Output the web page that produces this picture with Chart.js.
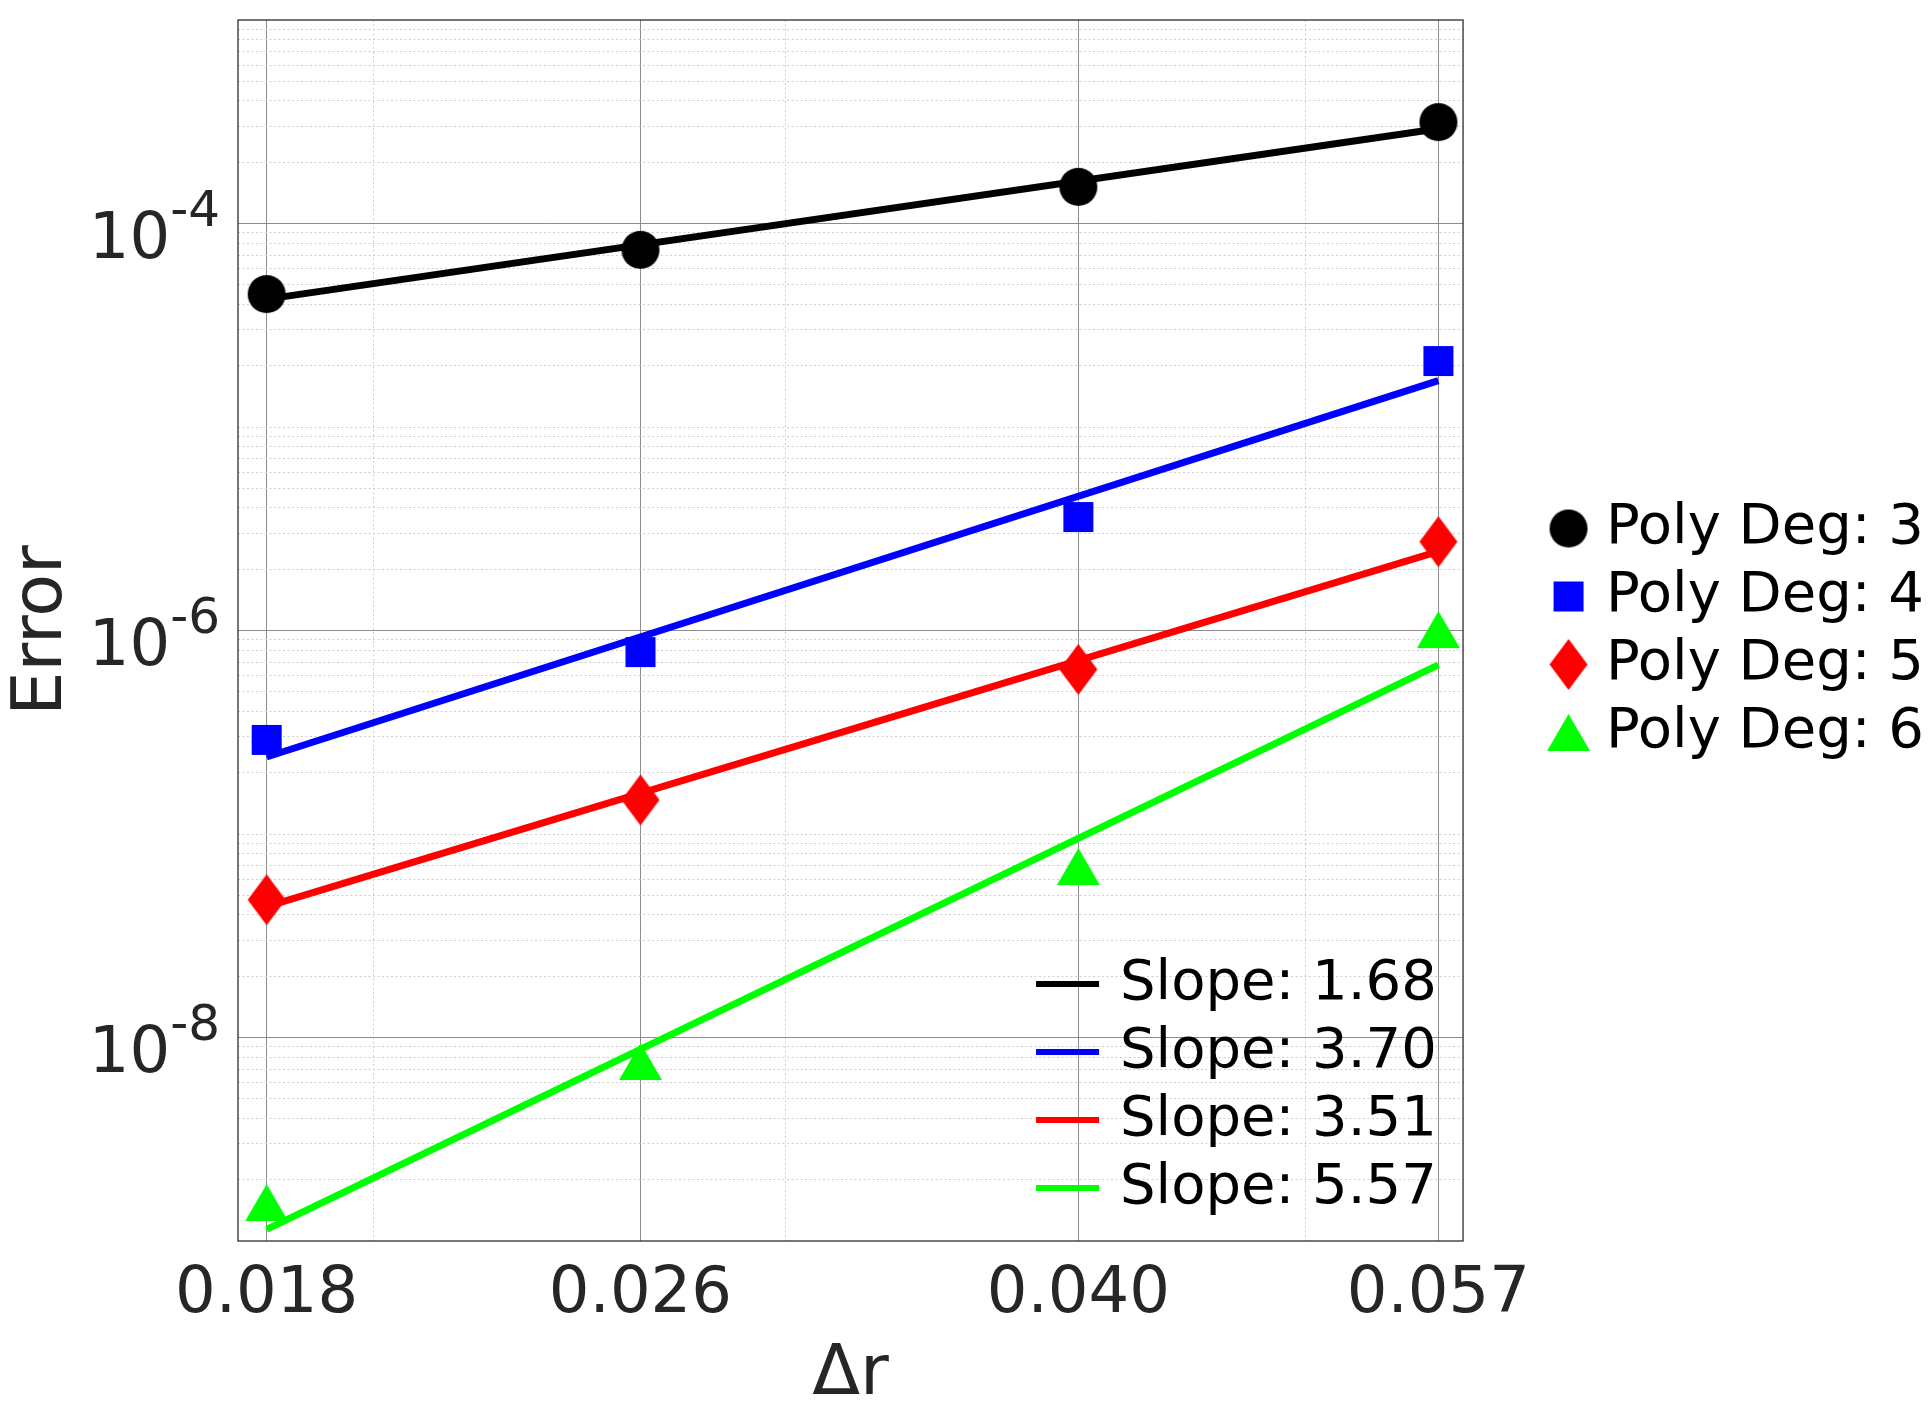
<!DOCTYPE html>
<html>
<head>
<meta charset="utf-8">
<script src="https://cdn.jsdelivr.net/npm/chart.js@4.4.1/dist/chart.umd.min.js"></script>
<style>
  html, body { margin: 0; padding: 0; background: #fff; }
  #wrap { width: 1930px; height: 1416px; }
</style>
</head>
<body>
<div id="wrap"><canvas id="myChart"></canvas></div>
<script>
// grid spacing (delta r) and measured errors
const dr = [0.018, 0.026, 0.040, 0.057];
const errDeg3 = [4.50e-5, 7.42e-5, 1.514e-4, 3.15e-4];
const errDeg4 = [2.90e-7, 7.83e-7, 3.61e-6, 2.11e-5];
const errDeg5 = [4.75e-8, 1.47e-7, 6.44e-7, 2.73e-6];
const errDeg6 = [1.545e-9, 7.62e-9, 6.92e-8, 1.01e-6];

// fitted lines, end points
const fitDr = [0.018, 0.057];
const fitDeg3 = [4.25e-5, 2.92e-4];
const fitDeg4 = [2.39e-7, 1.69e-5];
const fitDeg5 = [4.40e-8, 2.45e-6];
const fitDeg6 = [1.14e-9, 6.78e-7];

const degLabels = ["Poly Deg: 3", "Poly Deg: 4", "Poly Deg: 5", "Poly Deg: 6"];
const slopeLabels = ["Slope: 1.68", "Slope: 3.70", "Slope: 3.51", "Slope: 5.57"];

const xTickVals = [0.018, 0.026, 0.040, 0.057];
const xTickLabels = ["0.018", "0.026", "0.040", "0.057"];
const xMinorVals = [0.02, 0.03, 0.05];
const yLabelVals = [1e-8, 1e-6, 1e-4];
const yLabelExps = ["-8", "-6", "-4"];

const colors = ["#000000", "#0000ff", "#ff0000", "#00ff00"];
const shapes = ["circle", "square", "diamond", "triangle"];
const FONT = "DejaVu Sans";

function makeMark(kind, color, shiftX) {
  const sz = { circle: [38, 38], square: [30, 30], diamond: [38, 51], triangle: [43, 37] }[kind];
  const w = sz[0] + 4 + Math.round(Math.abs(shiftX)) * 2;
  const h = sz[1] + 4;
  const c = document.createElement("canvas");
  c.width = w;
  c.height = h;
  const g = c.getContext("2d");
  const cx = w / 2 + shiftX, cy = h / 2;
  const hw = sz[0] / 2, hh = sz[1] / 2;
  g.fillStyle = color;
  g.beginPath();
  if (kind === "circle") {
    g.arc(cx, cy, hw, 0, Math.PI * 2);
  } else if (kind === "square") {
    g.rect(cx - hw, cy - hh, sz[0], sz[1]);
  } else if (kind === "diamond") {
    g.moveTo(cx, cy - hh);
    g.lineTo(cx + hw, cy);
    g.lineTo(cx, cy + hh);
    g.lineTo(cx - hw, cy);
  } else {
    g.moveTo(cx, cy - hh);
    g.lineTo(cx + hw, cy + hh);
    g.lineTo(cx - hw, cy + hh);
  }
  g.closePath();
  g.fill();
  return c;
}

const plotMarks = shapes.map((s, i) => makeMark(s, colors[i], 0));
const legendMarks = shapes.map((s, i) => makeMark(s, colors[i], 42));

const xGridVals = xTickVals.concat(xMinorVals).sort((a, b) => a - b);
const yGridVals = [];
for (let e = -9; e <= -4; e++) {
  for (let m = 1; m <= 9; m++) {
    const v = Number((m * Math.pow(10, e)).toPrecision(6));
    if (v > 1.0001e-9 && v < 0.9999e-3) yGridVals.push(v);
  }
}
const isYMajor = (v) => yLabelVals.some((m) => Math.abs(v / m - 1) < 1e-6);
const isXMajor = (v) => xTickVals.includes(v);

function pts(xs, ys) {
  return xs.map((x, i) => ({ x: x, y: ys[i] }));
}

const fits = [fitDeg3, fitDeg4, fitDeg5, fitDeg6];
const errs = [errDeg3, errDeg4, errDeg5, errDeg6];

const datasets = [];
fits.forEach((f, i) => {
  datasets.push({
    label: slopeLabels[i],
    data: pts(fitDr, f),
    borderColor: colors[i],
    borderWidth: 7,
    pointRadius: 0,
    showLine: true,
    fill: false,
  });
});
errs.forEach((e, i) => {
  datasets.push({
    label: degLabels[i],
    data: pts(dr, e),
    showLine: false,
    pointStyle: plotMarks[i],
    pointRadius: 19,
    pointHoverRadius: 19,
    backgroundColor: colors[i],
    borderColor: colors[i],
  });
});

// custom y labels 10^k
const yLabelsPlugin = {
  id: "yLabels",
  afterDraw(chart) {
    const ctx = chart.ctx;
    const y = chart.scales.y;
    const xr = chart.chartArea.left - 18;
    ctx.save();
    ctx.fillStyle = "#262626";
    ctx.textAlign = "right";
    ctx.textBaseline = "alphabetic";
    yLabelVals.forEach((v, i) => {
      const py = y.getPixelForValue(v);
      ctx.font = "50px '" + FONT + "'";
      const ew = ctx.measureText(yLabelExps[i]).width;
      ctx.fillText(yLabelExps[i], xr, py + 2);
      ctx.font = "64px '" + FONT + "'";
      ctx.fillText("10", xr - ew, py + 34);
    });
    ctx.restore();
  },
};

// frame round the plot and the slope legend
const framePlugin = {
  id: "frame",
  afterDatasetsDraw(chart) {
    const ctx = chart.ctx;
    const a = chart.chartArea;
    ctx.save();
    ctx.font = "56px '" + FONT + "'";
    ctx.textBaseline = "middle";
    ctx.textAlign = "left";
    slopeLabels.forEach((s, i) => {
      const cy = a.bottom - 257 + i * 68;
      ctx.strokeStyle = colors[i];
      ctx.lineWidth = 6;
      ctx.beginPath();
      ctx.moveTo(a.right - 427, cy);
      ctx.lineTo(a.right - 364, cy);
      ctx.stroke();
      ctx.fillStyle = "#000";
      ctx.fillText(s, a.right - 343, cy);
    });
    ctx.strokeStyle = "#262626";
    ctx.lineWidth = 1.25;
    ctx.strokeRect(a.left, a.top, a.right - a.left, a.bottom - a.top);
    ctx.restore();
  },
};

const ctx = document.getElementById("myChart");
const myChart = new Chart(ctx, {
  type: "line",
  data: { datasets: datasets },
  options: {
    responsive: true,
    maintainAspectRatio: false,
    animation: false,
    devicePixelRatio: 1,
    layout: { padding: { top: 17, right: -4, left: 0, bottom: 0 } },
    plugins: {
      tooltip: { enabled: false },
      legend: {
        position: "right",
        align: "center",
        fullSize: false,
        labels: {
          usePointStyle: true,
          pointStyleWidth: 103,
          padding: 12,
          color: "#000",
          font: { family: FONT, size: 56 },
          generateLabels: () =>
            degLabels.map((t, i) => ({
              text: t,
              pointStyle: legendMarks[i],
              fillStyle: colors[i],
              strokeStyle: colors[i],
              lineWidth: 0,
              hidden: false,
              datasetIndex: 4 + i,
              fontColor: "#000",
            })),
        },
      },
    },
    scales: {
      x: {
        type: "logarithmic",
        min: 0.0175,
        max: 0.0584,
        afterBuildTicks: (s) => {
          s.ticks = xGridVals.map((v) => ({ value: v }));
        },
        afterFit: (s) => {
          s.height = 175;
        },
        ticks: {
          autoSkip: false,
          maxRotation: 0,
          minRotation: 0,
          padding: 16,
          color: "#262626",
          font: { family: FONT, size: 64 },
          callback: (v) => {
            const k = xTickVals.indexOf(v);
            return k >= 0 ? xTickLabels[k] : "";
          },
        },
        grid: {
          drawTicks: false,
          lineWidth: 1,
          color: (c) => (c.tick && isXMajor(c.tick.value) ? "#8c8c8c" : "#cfcfcf"),
        },
        border: {
          display: false,
          dash: (c) => (c.tick && !isXMajor(c.tick.value) ? [2, 2.5] : []),
        },
        title: {
          display: true,
          text: "Δr",
          color: "#262626",
          font: { family: FONT, size: 70, lineHeight: 1 },
          padding: { top: 0, bottom: 5 },
        },
      },
      y: {
        type: "logarithmic",
        min: 1e-9,
        max: 1e-3,
        afterBuildTicks: (s) => {
          s.ticks = yGridVals.map((v) => ({ value: v }));
        },
        afterFit: (s) => {
          s.width = 238;
        },
        ticks: { display: false },
        grid: {
          drawTicks: false,
          lineWidth: 1,
          color: (c) => (c.tick && isYMajor(c.tick.value) ? "#8c8c8c" : "#cfcfcf"),
        },
        border: {
          display: false,
          dash: (c) => (c.tick && !isYMajor(c.tick.value) ? [2, 2.5] : []),
        },
        title: {
          display: true,
          text: "Error",
          color: "#262626",
          font: { family: FONT, size: 70, lineHeight: 1 },
          padding: { top: 8, bottom: 0 },
        },
      },
    },
  },
  plugins: [yLabelsPlugin, framePlugin],
});
</script>
</body>
</html>
